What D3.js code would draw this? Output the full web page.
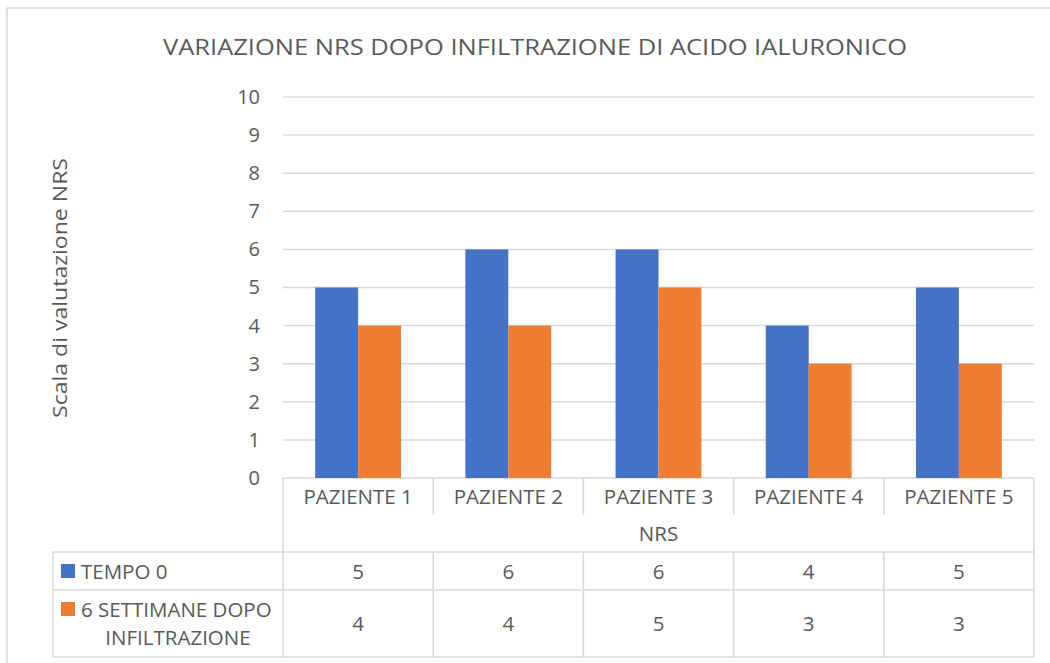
<!DOCTYPE html>
<html>
<head>
<meta charset="utf-8">
<script src="https://cdn.jsdelivr.net/npm/d3@7"></script>
<style>
  body { margin: 0; background: #fff; }
  text { font-family: "Open Sans", sans-serif; fill: #595959; }
</style>
</head>
<body>
<div id="chart"></div>
<script>
// data
const patients = ["PAZIENTE 1", "PAZIENTE 2", "PAZIENTE 3", "PAZIENTE 4", "PAZIENTE 5"];
const seriesNames = ["TEMPO 0", "6 SETTIMANE DOPO INFILTRAZIONE"];
const tempo0 = [5, 6, 6, 4, 5];
const dopo6 = [4, 4, 5, 3, 3];
const yTicks = [0, 1, 2, 3, 4, 5, 6, 7, 8, 9, 10];
const colors = ["#4472C4", "#ED7D31"];

const width = 1050, height = 663;
const svg = d3.select("#chart").append("svg")
  .attr("width", width)
  .attr("height", height);

// outer frame
svg.append("rect")
  .attr("x", 7).attr("y", 8)
  .attr("width", 1060).attr("height", 700)
  .attr("fill", "none")
  .attr("stroke", "#d9d9d9")
  .attr("stroke-width", 1.5);

const plotLeft = 283, plotRight = 1034, plotTop = 97, plotBottom = 478;
const tableLeft = 53;
const rowNRS = 515, row1 = 552, row2 = 590, tableBottom = 657;
const fs = 20.5; // table text size

const x = d3.scaleBand().domain(patients).range([plotLeft, plotRight]);
const x1 = d3.scaleBand().domain(seriesNames).range([0, x.bandwidth()]).paddingOuter(0.75);
const y = d3.scaleLinear().domain([0, 10]).range([plotBottom, plotTop]);

// title
svg.append("text")
  .attr("x", 535).attr("y", 55)
  .attr("text-anchor", "middle")
  .attr("font-size", 22)
  .attr("textLength", 744)
  .attr("lengthAdjust", "spacingAndGlyphs")
  .text("VARIAZIONE NRS DOPO INFILTRAZIONE DI ACIDO IALURONICO");

// gridlines
svg.append("g").selectAll("line")
  .data(yTicks)
  .enter().append("line")
  .attr("x1", plotLeft).attr("x2", plotRight)
  .attr("y1", d => y(d)).attr("y2", d => y(d))
  .attr("stroke", "#d9d9d9")
  .attr("stroke-width", 1.5);

// y axis labels
const yAxis = d3.axisLeft(y).tickValues(yTicks).tickSize(0).tickPadding(0);
const gy = svg.append("g").attr("transform", "translate(260,0)").call(yAxis);
gy.select(".domain").remove();
gy.selectAll("text")
  .attr("font-size", 20)
  .style("font-family", "'Open Sans', sans-serif")
  .attr("fill", "#595959");

// y title
svg.append("text")
  .attr("transform", "translate(67,288) rotate(-90)")
  .attr("text-anchor", "middle")
  .attr("font-size", 20)
  .attr("textLength", 260)
  .attr("lengthAdjust", "spacingAndGlyphs")
  .text("Scala di valutazione NRS");

// bars
const allSeries = [tempo0, dopo6];
allSeries.forEach(function(vals, s) {
  svg.append("g").selectAll("rect")
    .data(vals)
    .enter().append("rect")
    .attr("x", (d, i) => x(patients[i]) + x1(seriesNames[s]))
    .attr("width", x1.bandwidth())
    .attr("y", d => y(d))
    .attr("height", d => y(0) - y(d))
    .attr("fill", colors[s]);
});

// data table
const grid = svg.append("g").attr("stroke", "#d9d9d9").attr("stroke-width", 1.5);
const edges = patients.map(p => x(p)).concat([plotRight]);

// category label separators
grid.selectAll(".sep").data(edges).enter().append("line")
  .attr("x1", d => d).attr("x2", d => d)
  .attr("y1", plotBottom)
  .attr("y2", (d, i) => (i == 0 || i == edges.length - 1) ? tableBottom : rowNRS);

grid.selectAll(".sep2").data(edges.slice(1, -1)).enter().append("line")
  .attr("x1", d => d).attr("x2", d => d)
  .attr("y1", row1).attr("y2", tableBottom);

[row1, row2, tableBottom].forEach(function(yy) {
  grid.append("line")
    .attr("x1", tableLeft).attr("x2", plotRight)
    .attr("y1", yy).attr("y2", yy);
});
grid.append("line")
  .attr("x1", tableLeft).attr("x2", tableLeft)
  .attr("y1", row1).attr("y2", tableBottom);

// category labels
svg.append("g").selectAll("text")
  .data(patients)
  .enter().append("text")
  .attr("x", d => x(d) + x.bandwidth() / 2)
  .attr("y", 504)
  .attr("text-anchor", "middle")
  .attr("font-size", fs)
  .text(d => d);

svg.append("text")
  .attr("x", (plotLeft + plotRight) / 2).attr("y", 541)
  .attr("text-anchor", "middle")
  .attr("font-size", fs)
  .text("NRS");

// legend keys in table
svg.append("rect").attr("x", 61).attr("y", 564).attr("width", 14).attr("height", 14).attr("fill", colors[0]);
svg.append("text").attr("x", 81).attr("y", 579).attr("font-size", fs).text(seriesNames[0]);

svg.append("rect").attr("x", 61).attr("y", 602).attr("width", 14).attr("height", 14).attr("fill", colors[1]);
svg.append("text").attr("x", 81).attr("y", 617).attr("font-size", fs).text("6 SETTIMANE DOPO");
svg.append("text").attr("x", 178).attr("y", 645).attr("text-anchor", "middle").attr("font-size", fs).text("INFILTRAZIONE");

// values
const rowCenters = [579, 631];
allSeries.forEach(function(vals, s) {
  svg.append("g").selectAll("text")
    .data(vals)
    .enter().append("text")
    .attr("x", (d, i) => x(patients[i]) + x.bandwidth() / 2)
    .attr("y", rowCenters[s])
    .attr("text-anchor", "middle")
    .attr("font-size", fs)
    .text(d => d);
});
</script>
</body>
</html>
